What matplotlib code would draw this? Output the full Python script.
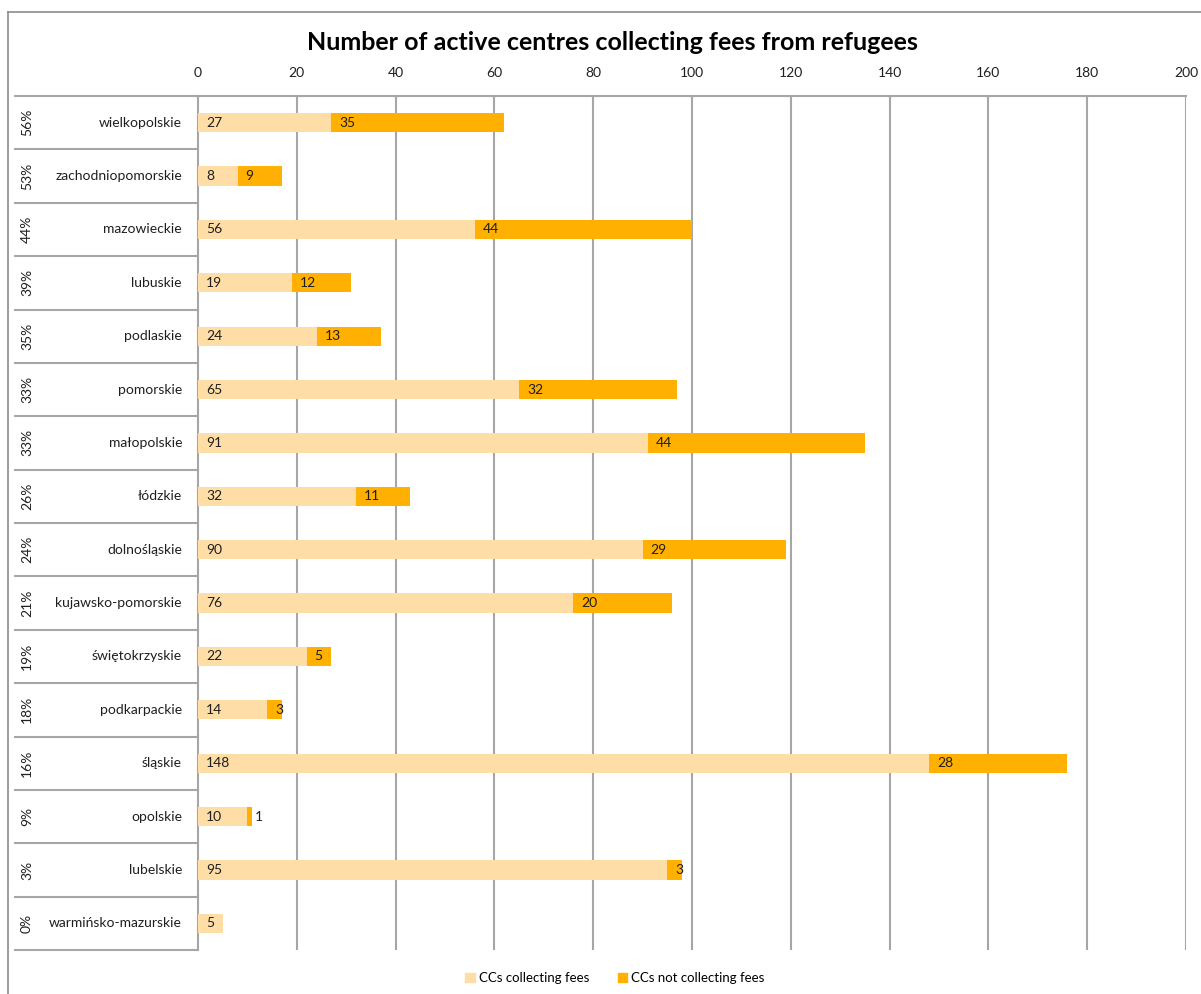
import matplotlib.pyplot as plt
from matplotlib.patches import Rectangle
from matplotlib.lines import Line2D

plt.rcParams['font.family'] = ['Lato', 'DejaVu Sans']

regions = ['wielkopolskie', 'zachodniopomorskie', 'mazowieckie', 'lubuskie', 'podlaskie',
           'pomorskie', 'małopolskie', 'łódzkie', 'dolnośląskie', 'kujawsko-pomorskie',
           'świętokrzyskie', 'podkarpackie', 'śląskie', 'opolskie', 'lubelskie',
           'warmińsko-mazurskie']
collecting = [27, 8, 56, 19, 24, 65, 91, 32, 90, 76, 22, 14, 148, 10, 95, 5]
not_collecting = [35, 9, 44, 12, 13, 32, 44, 11, 29, 20, 5, 3, 28, 1, 3, 0]
share = ['56%', '53%', '44%', '39%', '35%', '33%', '33%', '26%', '24%', '21%',
         '19%', '18%', '16%', '9%', '3%', '0%']
ticks = [0, 20, 40, 60, 80, 100, 120, 140, 160, 180, 200]

light = '#FFDDA6'
dark = '#FFB000'
grid = '#A6A6A6'
txt = '#1f1f1f'

fig = plt.figure(figsize=(12.01, 9.94), dpi=100)
ax = fig.add_axes([198 / 1201, 1 - 950 / 994, 988 / 1201, 854 / 994])

y = list(range(len(regions)))
ax.barh(y, collecting, height=0.36, color=light, zorder=3)
ax.barh(y, not_collecting, left=collecting, height=0.36, color=dark, zorder=3)

for i in y:
    ax.text(1.6, i, str(collecting[i]), va='center', ha='left', fontsize=10, color=txt, zorder=4)
    if not_collecting[i] > 0:
        ax.text(collecting[i] + 1.6, i, str(not_collecting[i]), va='center', ha='left',
                fontsize=10, color=txt, zorder=4)

ax.set_xlim(0, 200)
ax.set_ylim(len(regions) - 0.5, -0.5)
ax.set_xticks(ticks)
ax.xaxis.tick_top()
ax.tick_params(axis='x', length=0, pad=12, labelsize=10, labelcolor=txt)
ax.set_yticks([])
for t in ticks[1:]:
    ax.axvline(t, color=grid, lw=1.5, zorder=1)
for s in ['right', 'bottom', 'top']:
    ax.spines[s].set_visible(False)
ax.spines['left'].set_color(grid)
ax.spines['left'].set_linewidth(1.5)

# category table on the left
tr = ax.get_yaxis_transform()
x0 = (15 - 198) / 988
ax.plot([x0, 1], [-0.5, -0.5], transform=tr, color=grid, lw=1.5, clip_on=False)
for i in y:
    ax.plot([x0, 0], [i + 0.5, i + 0.5], transform=tr, color=grid, lw=1.5, clip_on=False)
    ax.text((182 - 198) / 988, i, regions[i], transform=tr, ha='right', va='center',
            fontsize=10, color=txt)
    ax.text((27 - 198) / 988, i, share[i], transform=tr, ha='center', va='center',
            rotation=90, fontsize=10, color=txt)

# outer frame of the chart
fig.add_artist(Line2D([8 / 1201, 8 / 1201], [0, 1 - 12 / 994], color='#8c8c8c', lw=1.2))
fig.add_artist(Line2D([8 / 1201, 1], [1 - 12 / 994, 1 - 12 / 994], color='#8c8c8c', lw=1.2))

fig.text(612 / 1201, 1 - 43 / 994, 'Number of active centres collecting fees from refugees',
         ha='center', va='center', fontsize=18, fontweight='bold', color='black')

handles = [Rectangle((0, 0), 1, 1, color=light), Rectangle((0, 0), 1, 1, color=dark)]
fig.legend(handles, ['CCs collecting fees', 'CCs not collecting fees'], loc='center',
           bbox_to_anchor=(615 / 1201, 1 - 978 / 994), ncol=2, frameon=False,
           fontsize=9.5, handlelength=0.7, handleheight=0.7, handletextpad=0.3,
           columnspacing=2.2)

fig.savefig('out.png', dpi=100)
